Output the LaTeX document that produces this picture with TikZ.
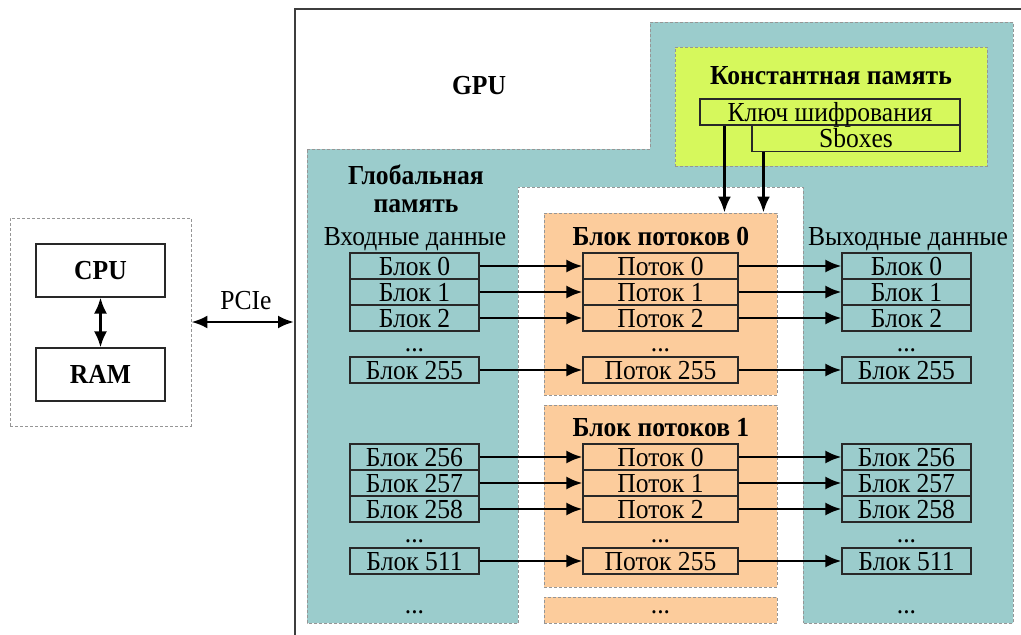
\documentclass[tikz,border=0pt]{standalone}
\usepackage{fontspec}
\setmainfont{Liberation Serif}[FakeStretch=0.93]
\usetikzlibrary{arrows.meta,calc}
\definecolor{tealbg}{RGB}{155,204,204}
\definecolor{peach}{RGB}{252,204,156}
\definecolor{limebg}{RGB}{214,248,92}
\definecolor{dashgray}{RGB}{150,150,150}
\definecolor{edge}{RGB}{40,40,40}
\begin{document}
\begin{tikzpicture}[x=1pt,y=-1pt,
  every node/.style={font=\fontsize{27.5}{30}\selectfont, inner sep=0pt},
  region/.style={draw=dashgray, dash pattern=on 3pt off 2pt, line width=0.8pt},
  cell/.style={draw=edge, line width=1.1pt, minimum height=26pt, minimum width=129pt, text height=18pt, text depth=0pt},
  tcell/.style={cell, minimum width=155pt},
  lbl/.style={anchor=base},
  boldlbl/.style={anchor=base, font=\fontsize{27.5}{30}\selectfont\bfseries},
  arr/.style={line width=2.8pt, -{Latex[length=16pt,width=13pt]}},
  darr/.style={line width=2.8pt, {Latex[length=16pt,width=13pt]}-{Latex[length=16pt,width=13pt]}}]
\useasboundingbox (0,0) rectangle (1021,635);

% GPU outline
\draw[line width=2.5pt, color=edge!90] (295,635) -- (295,9) -- (1021,9);

% global memory
\draw[region, fill=tealbg] (307,149) -- (650,149) -- (650,22) -- (1013,22) -- (1013,623) -- (307,623) -- cycle;
% thread column
\fill[white] (518,187) rectangle (803,635);
\draw[region] (518,623) -- (518,187) -- (803,187) -- (803,623);

% constant memory
\node[region, fill=limebg, minimum width=312pt, minimum height=119pt] (cmem) at (831,106.5) {};
\node[boldlbl] (cmemt) at (831,84) {Константная память};
\node[cell, minimum width=260pt] (key) at (830,112) {Ключ шифрования};
\node[cell, minimum width=208pt] (sbox) at (856,138.5) {Sboxes};

% thread blocks
\node[region, fill=peach, minimum width=233pt, minimum height=182pt] (tb0) at (660.5,304) {};
\node[region, fill=peach, minimum width=233pt, minimum height=182pt] (tb1) at (660.5,496) {};
\node[region, fill=peach, minimum width=233pt, minimum height=26pt] (tb2) at (660.5,610) {};

% labels
\node[boldlbl] (gpu) at (479,94) {GPU};
\node[boldlbl] (glob1) at (416,184) {Глобальная};
\node[boldlbl] (glob2) at (416,212) {память};
\node[lbl] (inl) at (415,245) {Входные данные};
\node[lbl] (outl) at (908,245) {Выходные данные};
\node[boldlbl] (tb0t) at (661,245) {Блок потоков 0};
\node[boldlbl] (tb1t) at (661,436) {Блок потоков 1};

% rows
\foreach \n/\y/\a/\b in {0/266/0/0, 1/292/1/1, 2/318/2/2, 3/370/255/255, 4/457/256/0, 5/483/257/1, 6/509/258/2, 7/561/511/255} {
  \node[cell] (in\n) at (414.5,\y) {Блок \a};
  \node[tcell] (th\n) at (660.5,\y) {Поток \b};
  \node[cell] (out\n) at (906.5,\y) {Блок \a};
  \draw[arr] (in\n.east) -- (th\n.west);
  \draw[arr] (th\n.east) -- (out\n.west);
}

% dots
\foreach \x/\c in {414.5/a, 660.5/b, 906.5/c} {
  \node[lbl] (d0\c) at (\x,351) {...};
  \node[lbl] (d1\c) at (\x,542) {...};
  \node[lbl] (d2\c) at (\x,613) {...};
}

% constant memory arrows
\coordinate (k1) at ([xshift=25pt]key.south west);
\coordinate (s1) at ([xshift=12pt]sbox.south west);
\draw[arr] (k1) -- (k1 |- tb0.north);
\draw[arr] (s1) -- (s1 |- tb0.north);

% host
\node[region, minimum width=181pt, minimum height=208pt] (host) at (100.5,322) {};
\node[cell, minimum height=53pt, font=\fontsize{27.5}{30}\selectfont\bfseries] (cpu) at (100.5,270.5) {CPU};
\node[cell, minimum height=53pt, font=\fontsize{27.5}{30}\selectfont\bfseries] (ram) at (100.5,374.5) {RAM};
\draw[darr] (cpu.south) -- (ram.north);
\coordinate (gpuL) at (294,322);
\draw[darr] (host.east) -- (gpuL);
\node[lbl] (pcie) at (246,309) {PCIe};
\end{tikzpicture}
\end{document}
